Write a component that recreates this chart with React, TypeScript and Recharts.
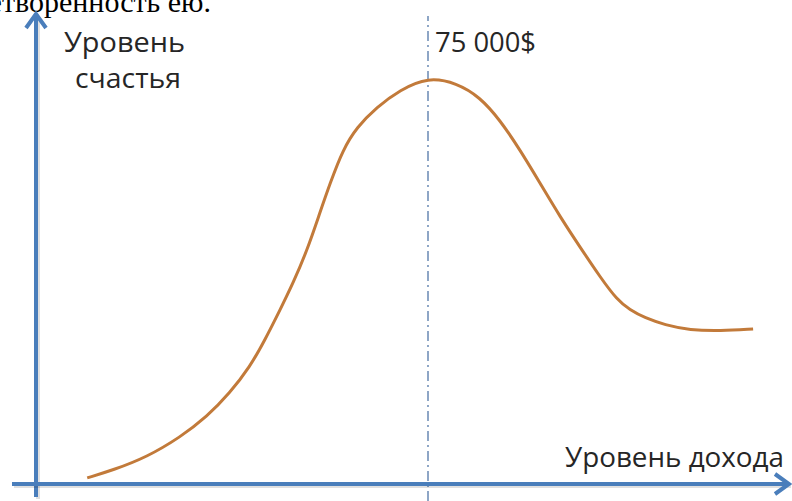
import { LineChart, Line, XAxis, YAxis, ReferenceLine, Customized } from "recharts"

// values (income in $, happiness in % of the peak)
const incomes = [
  9800, 14700, 21200, 27600, 32700, 37100, 40900, 43800, 46700, 49200, 51900, 54300, 56300,
  58700, 61400, 65200, 69600, 75000, 80500, 84900, 88800, 92600, 96400, 100300, 104100,
  107900, 111200, 113600, 116500, 120300, 125100, 130900, 137200,
]
const happiness = [
  1.5, 3.4, 6.6, 11.5, 16.5, 22.4, 28.7, 35.4, 42.8, 49.4, 57.5, 66.6, 74.0,
  82.1, 87.7, 92.6, 96.8, 100, 98.5, 95.1, 89.4, 82.1, 74.0, 65.6, 58.2,
  50.9, 45.2, 42.8, 40.8, 39.1, 37.8, 37.6, 38.1,
]
const peakIncome = 75000
const peakLabel = "75 000$"
const yTitle = ["Уровень", "счастья"]
const xTitle = "Уровень дохода"
const topText = "удовлетворенность ею."

const data = incomes.map((income, i) => ({ income, happy: happiness[i] }))

// layout of the picture
const W = 792
const H = 501
const originX = 36
const originY = 484
const peakPx = 428
const peakPy = 77
const perPxX = peakIncome / (peakPx - originX)
const perPxY = 100 / (originY - peakPy)
const xDomain = [-originX * perPxX, (W - originX) * perPxX]
const yDomain = [-(H - originY) * perPxY, originY * perPxY]

const AXIS_BLUE = "#4a7ebb"
const CURVE = "#c27a3a"
const FONT = "'Open Sans', 'Noto Sans', sans-serif"

const ArrowLine = (props: any) => {
  const { x1, y1, x2, y2 } = props
  const len = Math.hypot(x2 - x1, y2 - y1) || 1
  const ux = (x2 - x1) / len
  const uy = (y2 - y1) / len
  const back = 14
  const half = 10
  const bx = x2 - ux * back
  const by = y2 - uy * back
  const wing = `${bx - uy * half},${by + ux * half} ${x2},${y2} ${bx + uy * half},${by - ux * half}`
  return (
    <g>
      <line x1={x1 + 2} y1={y1 + 2} x2={x2 + 2} y2={y2 + 2} stroke="#000" strokeOpacity={0.12} strokeWidth={4} />
      <line x1={x1} y1={y1} x2={x2 - ux * 2} y2={y2 - uy * 2} stroke={AXIS_BLUE} strokeWidth={4} />
      <polyline points={wing} fill="none" stroke={AXIS_BLUE} strokeWidth={4} strokeLinejoin="miter" />
    </g>
  )
}

const Texts = () => (
  <g fill="#262626" fontFamily={FONT} fontSize={27}>
    <text x={211} y={12} textAnchor="end" fontFamily="'Liberation Serif', serif" fontSize={30} fill="#000">
      {topText}
    </text>
    <text x={64} y={52} textLength={121} lengthAdjust="spacingAndGlyphs">{yTitle[0]}</text>
    <text x={75} y={88} textLength={106} lengthAdjust="spacingAndGlyphs">{yTitle[1]}</text>
    <text x={435} y={52} textLength={101} lengthAdjust="spacingAndGlyphs">{peakLabel}</text>
    <text x={565} y={467} textLength={219} lengthAdjust="spacingAndGlyphs">{xTitle}</text>
  </g>
)

export default function App() {
  return (
    <div style={{ position: "absolute", left: 0, top: 0, width: W, height: H, background: "#fff" }}>
      <LineChart width={W} height={H} data={data} margin={{ top: 0, right: 0, bottom: 0, left: 0 }}>
        <XAxis dataKey="income" type="number" domain={xDomain} hide allowDataOverflow />
        <YAxis type="number" domain={yDomain} hide allowDataOverflow />
        <ReferenceLine
          segment={[{ x: peakIncome, y: yDomain[0] }, { x: peakIncome, y: (originY - 16) * perPxY }]}
          stroke="#8ea6c6"
          strokeWidth={2}
          strokeDasharray="10 4 2 4"
        />
        <ReferenceLine
          segment={[{ x: 0, y: -13 * perPxY }, { x: 0, y: (originY - 14) * perPxY }]}
          shape={ArrowLine}
        />
        <ReferenceLine
          segment={[{ x: -24 * perPxX, y: 0 }, { x: (789 - originX) * perPxX, y: 0 }]}
          shape={ArrowLine}
        />
        <Line
          type="basis"
          dataKey="happy"
          stroke={CURVE}
          strokeWidth={3}
          dot={false}
          activeDot={false}
          isAnimationActive={false}
        />
        <Customized component={<Texts />} />
      </LineChart>
    </div>
  )
}
